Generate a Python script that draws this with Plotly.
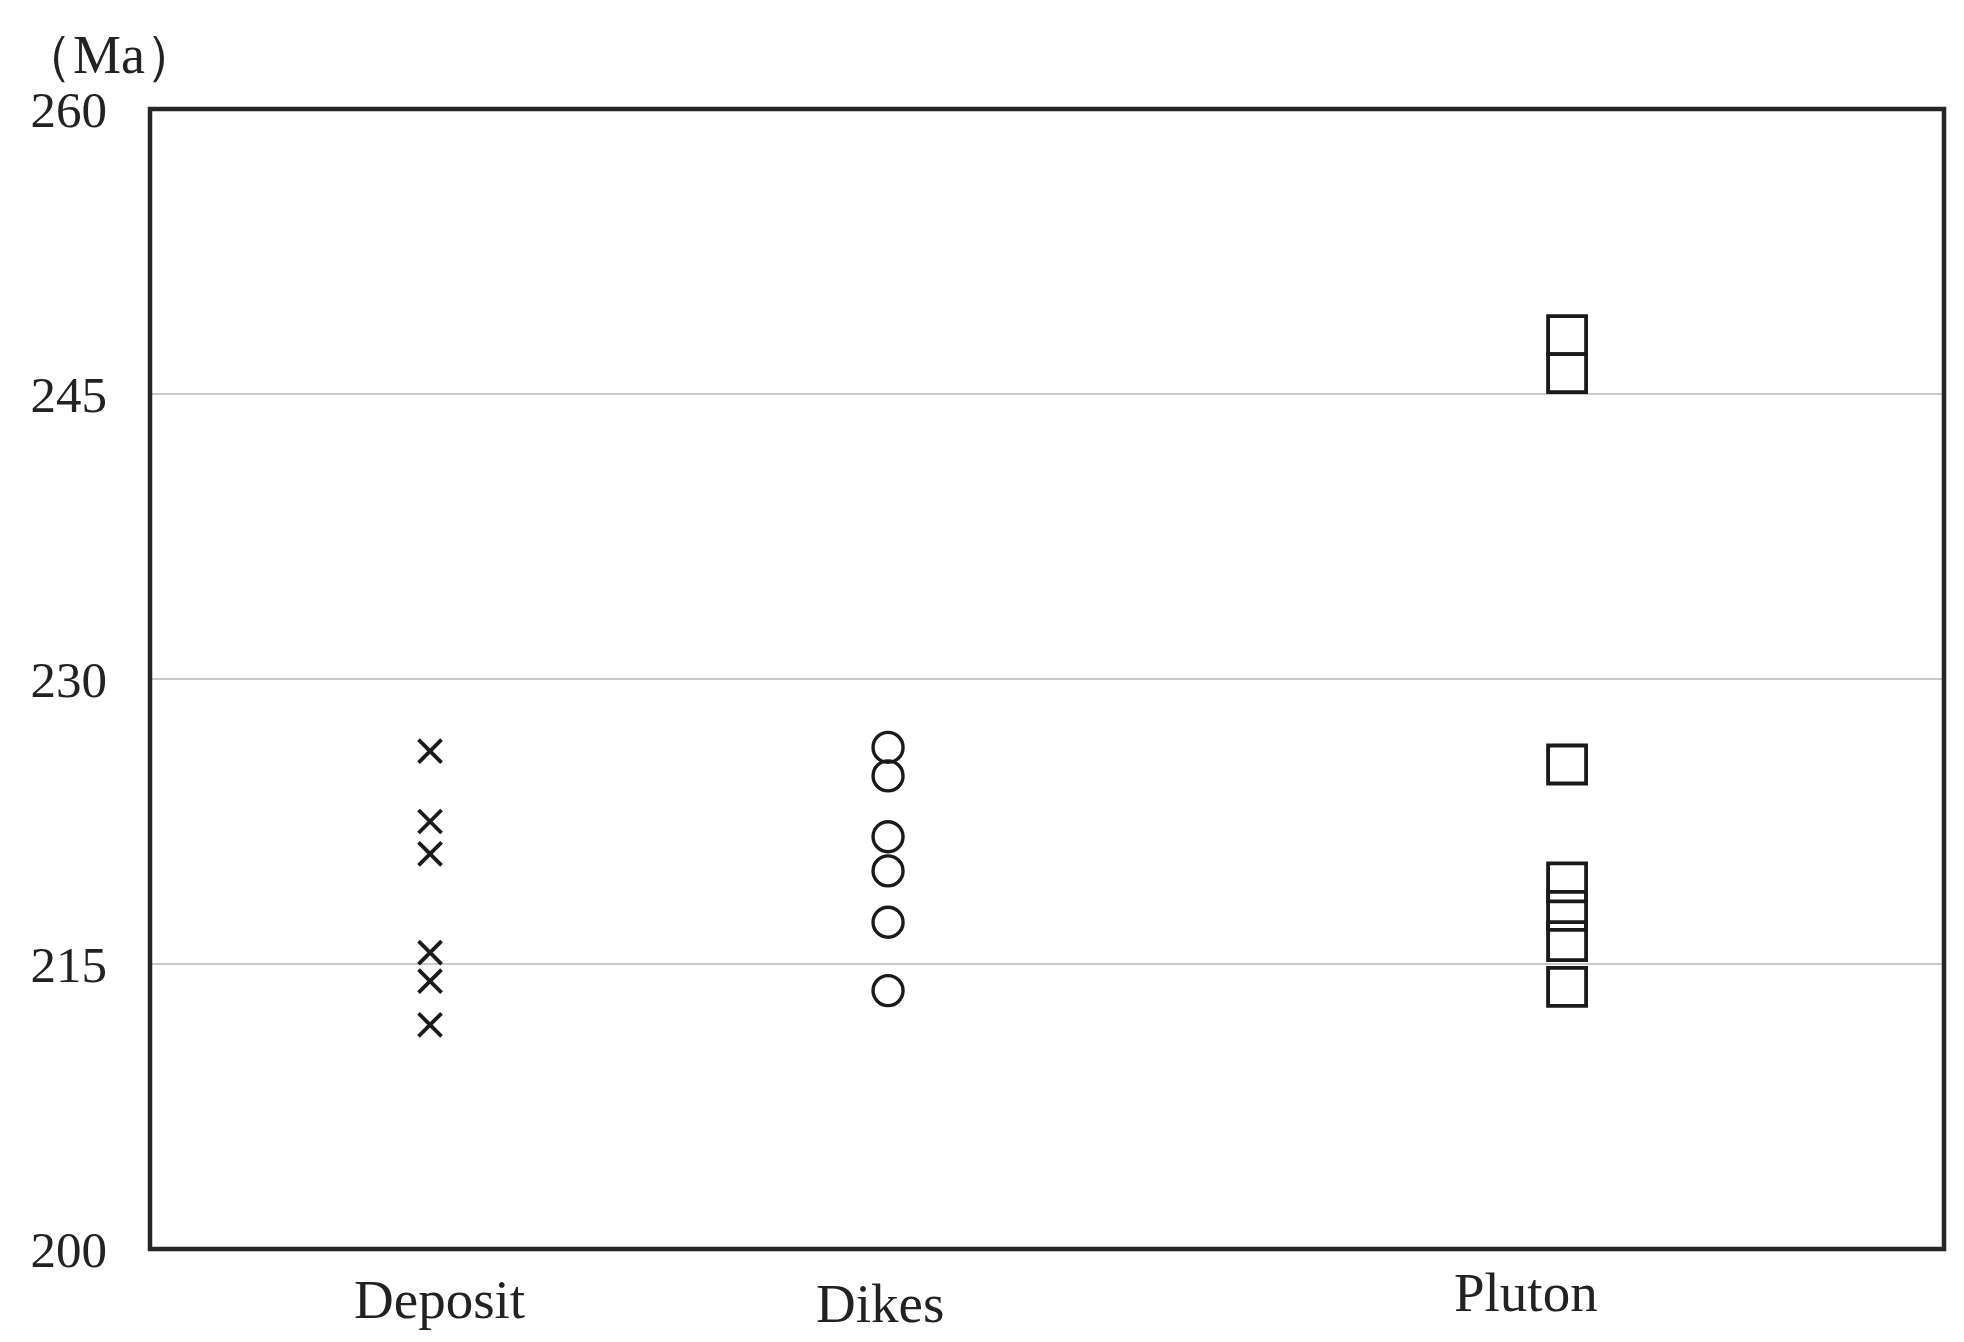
import plotly.graph_objects as go

# ---- data ----
categories = ["Deposit", "Dikes", "Pluton"]
deposit_ages = [226.2, 222.5, 220.8, 215.6, 214.1, 211.8]
dikes_ages = [226.4, 224.9, 221.7, 219.9, 217.2, 213.6]
pluton_ages = [248.1, 246.1, 225.5, 219.3, 217.8, 216.2, 213.8]
y_ticks = [200, 215, 230, 245, 260]
y_unit = "（Ma）"

# ---- layout helpers (positions on the numeric x axis, 0..1) ----
x_pos = {"Deposit": 0.1561, "Dikes": 0.4114, "Pluton": 0.7899}
label_pos = {"Deposit": (0.1611, -0.044), "Dikes": (0.4069, -0.048), "Pluton": (0.767, -0.038)}

W, H = 1948, 1326
L, R, T, B = 142, 12, 101, 85

series = [
    ("Deposit", deposit_ages, "x-thin-open", 23, 3.8),
    ("Dikes", dikes_ages, "circle-open", 30, 3.4),
    ("Pluton", pluton_ages, "square-open", 38, 3.8),
]

fig = go.Figure()
for name, vals, sym, size, lw in series:
    fig.add_trace(go.Scatter(
        x=[x_pos[name]] * len(vals), y=vals, mode="markers", name=name,
        marker=dict(symbol=sym, size=size, color="#1a1a1a",
                    line=dict(color="#1a1a1a", width=lw)),
        showlegend=False, hoverinfo="y",
    ))

serif = "Liberation Serif, Times New Roman, serif"

fig.update_layout(
    width=W, height=H,
    margin=dict(l=L, r=R, t=T, b=B),
    paper_bgcolor="white", plot_bgcolor="white",
    xaxis=dict(range=[0, 1], showticklabels=False, showgrid=False,
               zeroline=False, showline=False, ticks=""),
    yaxis=dict(range=[200, 260], tickvals=y_ticks, ticktext=[str(v) for v in y_ticks],
               showgrid=True, gridcolor="#c8c8c8", gridwidth=2,
               zeroline=False, showline=False, ticks="",
               ticklabelstandoff=42,
               tickfont=dict(family=serif, size=51, color="#222")),
    shapes=[dict(type="rect", xref="paper", yref="paper", x0=0, x1=1, y0=0, y1=1,
                 line=dict(color="#262626", width=4.5), fillcolor="rgba(0,0,0,0)",
                 layer="above")],
)

annotations = [dict(text=y_unit, xref="paper", yref="paper", x=-0.023, y=1.047,
                    xanchor="center", yanchor="middle", showarrow=False,
                    font=dict(family=serif, size=54, color="#222"))]
for c in categories:
    lx, ly = label_pos[c]
    annotations.append(dict(text=c, xref="paper", yref="paper", x=lx, y=ly,
                            xanchor="center", yanchor="middle", showarrow=False,
                            font=dict(family=serif, size=55, color="#222")))
fig.update_layout(annotations=annotations)

fig.write_html("out.html")
